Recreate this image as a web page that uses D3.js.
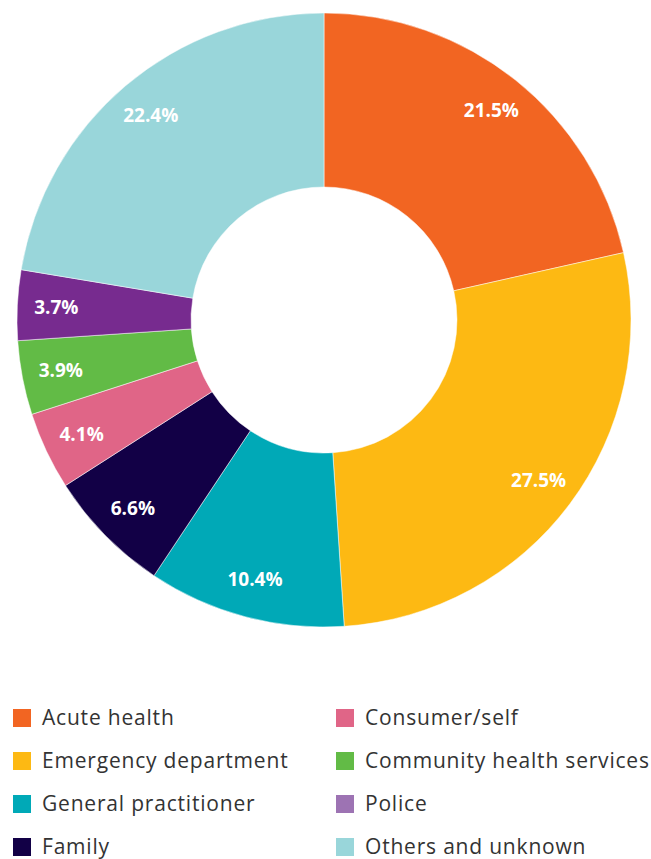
<!DOCTYPE html>
<html>
<head>
<meta charset="utf-8">
<script src="https://cdn.jsdelivr.net/npm/d3@7"></script>
<style>
  body { margin: 0; background: #fff; }
  text { font-family: "Open Sans", sans-serif; }
</style>
</head>
<body>
<script>
// DATA
var categories = ["Acute health", "Emergency department", "General practitioner", "Family",
                  "Consumer/self", "Community health services", "Police", "Others and unknown"];
var values = [21.5, 27.5, 10.4, 6.6, 4.1, 3.9, 3.7, 22.4];
var sliceColors = ["#f26522", "#fdb913", "#00a9b7", "#120046", "#e06587", "#62bb46", "#772b8f", "#99d6da"];
var legendColors = ["#f26522", "#fdb913", "#00a9b7", "#120046", "#e06587", "#62bb46", "#9d73b3", "#99d6da"];
// legend order: first column then second column
var legendOrder = [0, 1, 2, 3, 4, 5, 6, 7];

var width = 651, height = 859;
var cx = 324, cy = 320,
    outerR = 307, innerR = 133, labelR = 268;

var svg = d3.select("body").append("svg")
    .attr("width", width)
    .attr("height", height);

var data = categories.map(function (c, i) {
    return { name: c, value: values[i], color: sliceColors[i] };
});

var pie = d3.pie()
    .sort(null)
    .value(d => d.value);

var arc = d3.arc()
    .innerRadius(innerR)
    .outerRadius(outerR);

var labelArc = d3.arc()
    .innerRadius(labelR)
    .outerRadius(labelR);

var g = svg.append("g")
    .attr("transform", "translate(" + cx + "," + cy + ")");

var arcs = pie(data);

g.selectAll(".slice")
    .data(arcs)
    .enter()
    .append("path")
    .attr("class", "slice")
    .attr("d", arc)
    .attr("fill", d => d.data.color)
    .attr("stroke", "#fff")
    .attr("stroke-width", 0.5);

g.selectAll(".pct")
    .data(arcs)
    .enter()
    .append("text")
    .attr("class", "pct")
    .attr("transform", d => "translate(" + labelArc.centroid(d) + ")")
    .attr("text-anchor", "middle")
    .attr("dy", "0.35em")
    .style("fill", "#fff")
    .style("font-weight", "bold")
    .style("font-size", "19px")
    .text(d => d.data.value.toFixed(1) + "%");

// LEGEND
var legend = svg.append("g").attr("class", "legend");
var rowY = d3.scalePoint().domain([0, 1, 2, 3]).range([718, 847]);
var colX = [13, 336];

var items = legend.selectAll(".item")
    .data(legendOrder)
    .enter()
    .append("g")
    .attr("class", "item")
    .attr("transform", i => "translate(" + colX[Math.floor(i / 4)] + "," + rowY(i % 4) + ")");

items.append("rect")
    .attr("x", 0)
    .attr("y", -9)
    .attr("width", 18)
    .attr("height", 18)
    .attr("fill", i => legendColors[i]);

items.append("text")
    .attr("x", 29)
    .attr("dy", "0.35em")
    .style("font-size", "21px")
    .style("letter-spacing", "0.8px")
    .style("fill", "#333")
    .text(i => categories[i]);
</script>
</body>
</html>
